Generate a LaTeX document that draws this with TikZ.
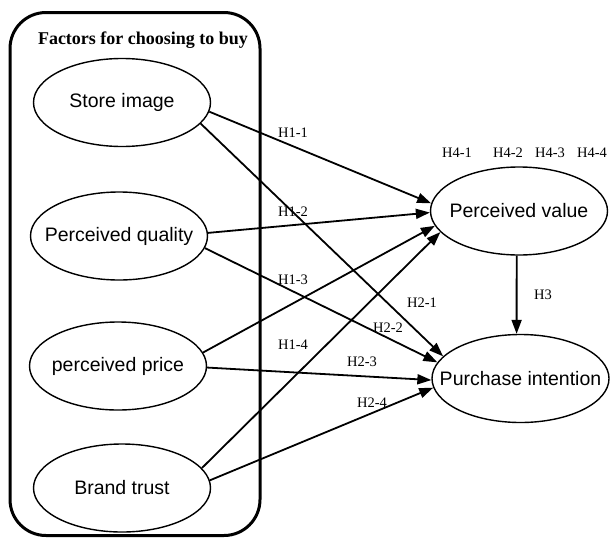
\documentclass[tikz,border=0pt]{standalone}
\usepackage{fontspec}
\setmainfont{Liberation Serif}
\newfontfamily\arialfont{Liberation Sans}
\usepackage{tikz}
\usetikzlibrary{shapes.geometric,arrows.meta}
\tikzset{
  factorbox/.style={draw, line width=1.4pt, ellipse, minimum width=177pt, minimum height=88pt, inner xsep=-25pt, inner ysep=0pt},
  hyparrow/.style={line width=1.8pt, -{Triangle[length=14pt,width=10pt]}},
  hyplabel/.style={inner sep=0pt},
}

\begin{document}
\begin{tikzpicture}[x=1pt, y=-1pt]%
\useasboundingbox (0,0) rectangle (610,538);%
\node[draw, line width=3pt, rounded corners=36pt, minimum width=250pt, minimum height=523pt, inner sep=0pt] (group) at (135, 274) {};%
\node (title) at (143, 40) {\fontsize{18pt}{18pt}\selectfont\bfseries Factors for choosing to buy};%
\node[factorbox] (store) at (122, 102.5) {\fontsize{19.5pt}{19.5pt}\selectfont\arialfont Store image};%
\node[factorbox] (quality) at (119, 236) {\fontsize{19.5pt}{19.5pt}\selectfont\arialfont Perceived quality};%
\node[factorbox] (price) at (118, 366) {\fontsize{19.5pt}{19.5pt}\selectfont\arialfont perceived price};%
\node[factorbox] (trust) at (122, 488) {\fontsize{19.5pt}{19.5pt}\selectfont\arialfont Brand trust};%
\node[factorbox] (value) at (519, 211) {\fontsize{19.5pt}{19.5pt}\selectfont\arialfont Perceived value};%
\node[factorbox] (intention) at (520.5, 378.5) {\fontsize{19.5pt}{19.5pt}\selectfont\arialfont Purchase intention};%
\draw[hyparrow] (store.-6) -- (value.175);%
\draw[hyparrow] (quality.2) -- (value.181);%
\draw[hyparrow] (price.9) -- (value.190);%
\draw[hyparrow] (trust.14) -- (value.195.5);%
\draw[hyparrow] (store.-15) -- (intention.164.8);%
\draw[hyparrow] (quality.-8) -- (intention.169.7);%
\draw[hyparrow] (price.-1.5) -- (intention.181.4);%
\draw[hyparrow] (trust.5) -- (intention.186.3);%
\draw[hyparrow] (value.-93) -- (intention.95);%
\node[hyplabel] (h11) at (293, 133) {\fontsize{14.5pt}{14.5pt}\selectfont H1-1};%
\node[hyplabel] (h12) at (293, 212) {\fontsize{14.5pt}{14.5pt}\selectfont H1-2};%
\node[hyplabel] (h13) at (293, 280) {\fontsize{14.5pt}{14.5pt}\selectfont H1-3};%
\node[hyplabel] (h14) at (293, 345) {\fontsize{14.5pt}{14.5pt}\selectfont H1-4};%
\node[hyplabel] (h21) at (422, 303) {\fontsize{14.5pt}{14.5pt}\selectfont H2-1};%
\node[hyplabel] (h22) at (388, 328) {\fontsize{14.5pt}{14.5pt}\selectfont H2-2};%
\node[hyplabel] (h23) at (362, 362) {\fontsize{14.5pt}{14.5pt}\selectfont H2-3};%
\node[hyplabel] (h24) at (372, 403) {\fontsize{14.5pt}{14.5pt}\selectfont H2-4};%
\node[hyplabel] (h3) at (543, 295) {\fontsize{14.5pt}{14.5pt}\selectfont H3};%
\node[hyplabel] (h41) at (457, 153) {\fontsize{14.5pt}{14.5pt}\selectfont H4-1};%
\node[hyplabel] (h42) at (508, 153) {\fontsize{14.5pt}{14.5pt}\selectfont H4-2};%
\node[hyplabel] (h43) at (550, 153) {\fontsize{14.5pt}{14.5pt}\selectfont H4-3};%
\node[hyplabel] (h44) at (592, 153) {\fontsize{14.5pt}{14.5pt}\selectfont H4-4};%
\end{tikzpicture}
\end{document}
